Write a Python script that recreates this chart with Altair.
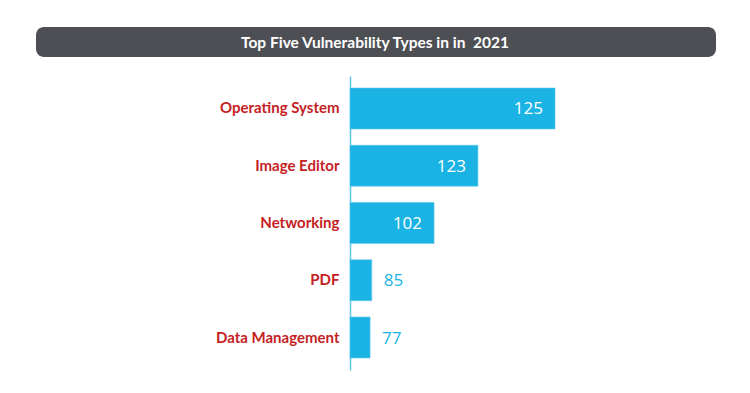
import altair as alt
import pandas as pd

# ---- data ----
categories = ["Operating System", "Image Editor", "Networking", "PDF", "Data Management"]
values = [125, 123, 102, 85, 77]
# drawn bar length as shown in the infographic (percent of the longest bar)
bar_extent = [100, 62.4, 41.0, 10.6, 9.8]
title_text = "Top Five Vulnerability Types in in \u00a02021"

df = pd.DataFrame({
    "category": categories,
    "value": values,
    "extent": bar_extent,
    "label": [str(v) for v in values],
})

W, H = 360, 294
xscale = alt.Scale(domain=[0, 175.6], nice=False, zero=True)
yenc = alt.Y(
    "category:N",
    sort=categories,
    scale=alt.Scale(paddingInner=0.285, paddingOuter=0.21),
    axis=alt.Axis(
        title=None,
        ticks=False,
        grid=False,
        domain=True,
        domainColor="#5cc6ee",
        domainWidth=1.5,
        labelColor="#c4221f",
        labelFont="Lato",
        labelFontWeight="bold",
        labelFontSize=15,
        labelPadding=11,
        labelLimit=300,
    ),
)

base = alt.Chart(df)

bars = base.mark_bar(color="#1bb3e4", stroke="#5cc6ee", strokeWidth=0.6).encode(
    x=alt.X("extent:Q", scale=xscale, axis=None),
    y=yenc,
)

inside = base.transform_filter("datum.value >= 100").mark_text(
    align="right", baseline="middle", dx=-12, dy=1,
    color="white", font="Open Sans", fontSize=17,
).encode(x=alt.X("extent:Q", scale=xscale), y=alt.Y("category:N", sort=categories), text="label:N")

outside = base.transform_filter("datum.value < 100").mark_text(
    align="left", baseline="middle", dx=12, dy=1,
    color="#1bb3e4", font="Open Sans", fontSize=17,
).encode(x=alt.X("extent:Q", scale=xscale), y=alt.Y("category:N", sort=categories), text="label:N")

banner_df = pd.DataFrame({"t": [title_text]})
banner = alt.Chart(banner_df).mark_rect(color="#4e4f54", cornerRadius=8).encode(
    x=alt.value(-314), x2=alt.value(366), y=alt.value(-49), y2=alt.value(-19)
)
banner_text = alt.Chart(banner_df).mark_text(
    color="white", font="Lato", fontWeight="bold", fontSize=15.5, align="center", baseline="middle",
).encode(x=alt.value(25), y=alt.value(-33), text="t:N")

chart = alt.layer(banner, banner_text, bars, inside, outside).properties(
    width=W, height=H,
    autosize=alt.AutoSizeParams(type="none"),
    padding={"left": 342, "top": 68, "right": 32, "bottom": 14},
).configure(background="white").configure_view(stroke=None, strokeWidth=0)

chart.save("out.html", embed_options={"renderer": "svg", "actions": False})
